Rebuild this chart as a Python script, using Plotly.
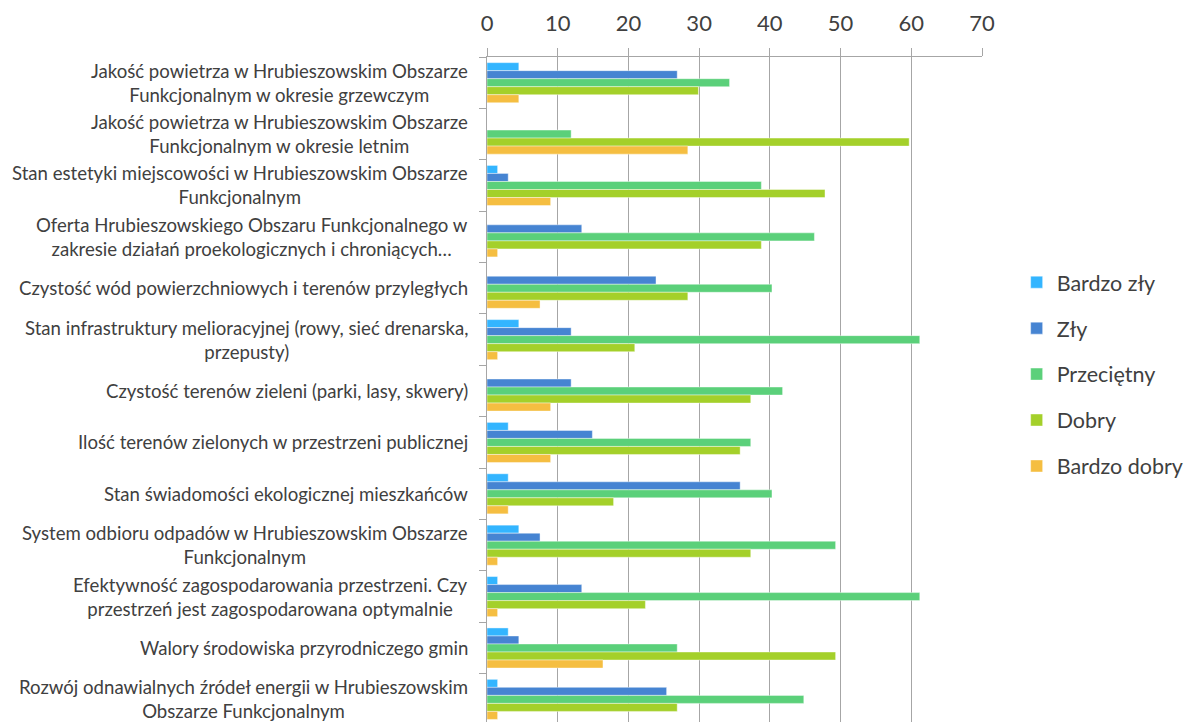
import plotly.graph_objects as go

categories = [
    "Jakość powietrza w Hrubieszowskim Obszarze<br>Funkcjonalnym w okresie grzewczym",
    "Jakość powietrza w Hrubieszowskim Obszarze<br>Funkcjonalnym w okresie letnim",
    "Stan estetyki miejscowości w Hrubieszowskim Obszarze<br>Funkcjonalnym",
    "Oferta Hrubieszowskiego Obszaru Funkcjonalnego w<br>zakresie działań proekologicznych i chroniących…",
    "Czystość wód powierzchniowych i terenów przyległych",
    "Stan infrastruktury melioracyjnej (rowy, sieć drenarska,<br>przepusty)",
    "Czystość terenów zieleni (parki, lasy, skwery)",
    "Ilość terenów zielonych w przestrzeni publicznej",
    "Stan świadomości ekologicznej mieszkańców",
    "System odbioru odpadów w Hrubieszowskim Obszarze<br>Funkcjonalnym",
    "Efektywność zagospodarowania przestrzeni. Czy<br>przestrzeń jest zagospodarowana optymalnie",
    "Walory środowiska przyrodniczego gmin",
    "Rozwój odnawialnych źródeł energii w Hrubieszowskim<br>Obszarze Funkcjonalnym",
]

bardzo_zly = [4.5, 0, 1.5, 0, 0, 4.5, 0, 3.0, 3.0, 4.5, 1.5, 3.0, 1.5]
zly = [26.9, 0, 3.0, 13.4, 23.9, 11.9, 11.9, 14.9, 35.8, 7.5, 13.4, 4.5, 25.4]
przecietny = [34.3, 11.9, 38.8, 46.3, 40.3, 61.2, 41.8, 37.3, 40.3, 49.3, 61.2, 26.9, 44.8]
dobry = [29.9, 59.7, 47.8, 38.8, 28.4, 20.9, 37.3, 35.8, 17.9, 37.3, 22.4, 49.3, 26.9]
bardzo_dobry = [4.5, 28.4, 9.0, 1.5, 7.5, 1.5, 9.0, 9.0, 3.0, 1.5, 1.5, 16.4, 1.5]

series_names = ["Bardzo zły", "Zły", "Przeciętny", "Dobry", "Bardzo dobry"]
series_values = [bardzo_zly, zly, przecietny, dobry, bardzo_dobry]
series_colors = ["#33b5ff", "#4684d2", "#5bd07a", "#a4d02a", "#f5be41"]

x_ticks = [0, 10, 20, 30, 40, 50, 60, 70]

FONT = "Lato, 'Open Sans', sans-serif"
TEXT = "#404040"
GRID = "#a6a6a6"

fig = go.Figure()
for name, vals, col in zip(series_names, series_values, series_colors):
    fig.add_trace(go.Bar(
        y=categories, x=vals, name=name, orientation="h",
        marker=dict(color=col, line=dict(color="rgba(255,255,255,0.7)", width=0.6)),
        legendgroup=name,
    ))

for cat in categories:
    fig.add_annotation(
        x=0, xref="paper", xanchor="right", xshift=-17,
        y=cat, yref="y", yanchor="middle",
        text=cat, showarrow=False, align="center",
        font=dict(family=FONT, size=18.6, color=TEXT),
    )

fig.update_layout(
    width=1188, height=714,
    margin=dict(l=479, r=214, t=49, b=0, autoexpand=False),
    paper_bgcolor="white", plot_bgcolor="white",
    barmode="group", bargap=0.22, bargroupgap=0,
    font=dict(family=FONT, color=TEXT),
    legend=dict(
        x=1.07, xanchor="left", y=0.523, yanchor="middle",
        font=dict(family=FONT, size=21.5, color=TEXT),
        tracegroupgap=15, traceorder="grouped",
        bgcolor="rgba(0,0,0,0)",
    ),
    xaxis=dict(
        side="top", range=[0, 70], tickvals=x_ticks,
        showgrid=True, gridcolor=GRID, gridwidth=1,
        showline=True, linecolor=GRID, linewidth=1,
        ticks="outside", ticklen=8, tickcolor=GRID,
        tickfont=dict(family=FONT, size=22, color=TEXT),
        ticklabelstandoff=8, automargin=False,
        zeroline=False, fixedrange=True,
    ),
    yaxis=dict(
        type="category", categoryorder="array", categoryarray=categories,
        range=[12.44, -0.5],
        showline=True, linecolor=GRID, linewidth=1,
        ticks="outside", tickson="boundaries", ticklen=7, tickcolor=GRID,
        showticklabels=False, showgrid=False, zeroline=False, automargin=False,
    ),
)

fig.write_html("out.html")
